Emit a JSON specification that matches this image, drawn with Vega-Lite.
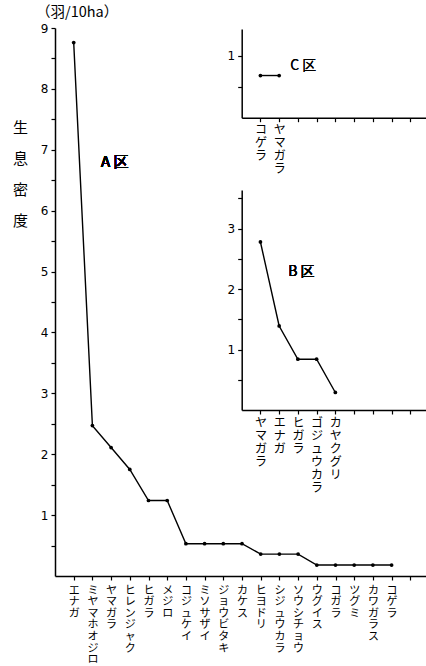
{
  "$schema": "https://vega.github.io/schema/vega-lite/v6.json",
  "width": 371,
  "height": 548,
  "autosize": "none",
  "padding": {"left": 55, "top": 28, "right": 0, "bottom": 90},
  "background": "white",
  "config": {
    "view": {"stroke": null},
    "font": "Noto Sans CJK JP",
    "axis": {"grid": false, "domainColor": "black", "tickColor": "black", "labelColor": "black", "titleColor": "black", "domainWidth": 1.5, "tickWidth": 1.2, "labelFlush": false, "labelOverlap": false, "tickCount": 40}
  },
  "title": {"text": "（羽/10ha）", "anchor": "start", "frame": "group", "dx": -19, "dy": -2, "offset": 0, "fontSize": 14.5, "fontWeight": "normal", "font": "Noto Sans CJK JP", "color": "black"},
  "datasets": {
    "A": [
      {"species": "エナガ", "density": 8.76},
      {"species": "ミヤマホオジロ", "density": 2.47},
      {"species": "ヤマガラ", "density": 2.11},
      {"species": "ヒレンジャク", "density": 1.75},
      {"species": "ヒガラ", "density": 1.24},
      {"species": "メジロ", "density": 1.24},
      {"species": "コジュケイ", "density": 0.53},
      {"species": "ミソサザイ", "density": 0.53},
      {"species": "ジョウビタキ", "density": 0.53},
      {"species": "カケス", "density": 0.53},
      {"species": "ヒヨドリ", "density": 0.36},
      {"species": "シジュウカラ", "density": 0.36},
      {"species": "ソウシチョウ", "density": 0.36},
      {"species": "ウグイス", "density": 0.18},
      {"species": "コガラ", "density": 0.18},
      {"species": "ツグミ", "density": 0.18},
      {"species": "カワガラス", "density": 0.18},
      {"species": "コゲラ", "density": 0.18}
    ],
    "B": [
      {"species": "ヤマガラ", "density": 2.78},
      {"species": "エナガ", "density": 1.39},
      {"species": "ヒガラ", "density": 0.84},
      {"species": "ゴジュウカラ", "density": 0.84},
      {"species": "カヤクグリ", "density": 0.29}
    ],
    "C": [
      {"species": "コゲラ", "density": 0.68},
      {"species": "ヤマガラ", "density": 0.68}
    ]
  },
  "layer": [
    {
      "data": {"name": "A"},
      "layer": [
        {
          "mark": {"type": "line", "color": "black", "strokeWidth": 1.4},
          "encoding": {
            "x": {"field": "species", "type": "nominal", "sort": null,
              "scale": {"type": "point", "domain": ["エナガ", "ミヤマホオジロ", "ヤマガラ", "ヒレンジャク", "ヒガラ", "メジロ", "コジュケイ", "ミソサザイ", "ジョウビタキ", "カケス", "ヒヨドリ", "シジュウカラ", "ソウシチョウ", "ウグイス", "コガラ", "ツグミ", "カワガラス", "コゲラ", " "], "range": [0, 374], "padding": 1},
              "axis": {"title": null, "orient": "bottom", "labelExpr": "split(datum.label, '')", "labelAngle": 0, "labelAlign": "center", "labelBaseline": "top", "labelFontSize": 11, "labelLineHeight": 11.6, "tickSize": 4, "labelPadding": 4}},
            "y": {"field": "density", "type": "quantitative",
              "scale": {"domain": [0, 9], "nice": false, "range": [548, 0]},
              "axis": {"orient": "left", "tickCount": 40, "values": [0.5, 1, 1.5, 2, 2.5, 3, 3.5, 4, 4.5, 5, 5.5, 6, 6.5, 7, 7.5, 8, 8.5, 9], "labelExpr": "datum.value % 1 == 0 ? format(datum.value, 'd') : ''", "labelFont": "DejaVu Sans", "labelFontSize": 12, "tickSize": 4, "labelPadding": 3,
                "title": ["生", "息", "密", "度"], "titleAngle": 0, "titleX": -35, "titleY": 92, "titleAlign": "center", "titleBaseline": "top", "titleLineHeight": 31, "titleFontSize": 15, "titleFontWeight": "normal"}}
          }
        },
        {
          "mark": {"type": "point", "filled": true, "color": "black", "size": 14, "opacity": 1},
          "encoding": {
            "x": {"field": "species", "type": "nominal", "sort": null},
            "y": {"field": "density", "type": "quantitative"}
          }
        },
        {
          "mark": {"type": "text", "text": "A 区", "fontSize": 15, "fontWeight": "normal", "align": "left", "dx": -10, "color": "black"},
          "encoding": {
            "x": {"datum": "ヤマガラ", "type": "nominal"},
            "y": {"datum": 6.8, "type": "quantitative"}
          }
        }
      ]
    },
    {
      "data": {"name": "B"},
      "layer": [
        {
          "mark": {"type": "line", "color": "black", "strokeWidth": 1.4},
          "encoding": {
            "x": {"field": "species", "type": "nominal", "sort": null,
              "scale": {"type": "point", "domain": ["ヤマガラ", "エナガ", "ヒガラ", "ゴジュウカラ", "カヤクグリ", " ", "  ", "   ", "    "], "range": [186.7, 374], "padding": 1},
              "axis": {"title": null, "orient": "bottom", "offset": -166, "labelExpr": "split(datum.label, '')", "labelAngle": 0, "labelAlign": "center", "labelBaseline": "top", "labelFontSize": 12, "labelLineHeight": 13, "tickSize": 4, "labelPadding": 3}},
            "y": {"field": "density", "type": "quantitative",
              "scale": {"domain": [0, 3.64], "nice": false, "range": [382, 162]},
              "axis": {"orient": "left", "offset": -186.7, "tickCount": 40, "title": null, "values": [0.5, 1, 1.5, 2, 2.5, 3, 3.5], "labelExpr": "datum.value % 1 == 0 ? format(datum.value, 'd') : ''", "labelFont": "DejaVu Sans", "labelFontSize": 12, "tickSize": 4, "labelPadding": 3}}
          }
        },
        {
          "mark": {"type": "point", "filled": true, "color": "black", "size": 14, "opacity": 1},
          "encoding": {
            "x": {"field": "species", "type": "nominal", "sort": null},
            "y": {"field": "density", "type": "quantitative"}
          }
        },
        {
          "mark": {"type": "text", "text": "B 区", "fontSize": 14, "fontWeight": "normal", "align": "left", "dx": 9, "color": "black"},
          "encoding": {
            "x": {"datum": "エナガ", "type": "nominal"},
            "y": {"datum": 2.29, "type": "quantitative"}
          }
        }
      ]
    },
    {
      "data": {"name": "C"},
      "layer": [
        {
          "mark": {"type": "line", "color": "black", "strokeWidth": 1.4},
          "encoding": {
            "x": {"field": "species", "type": "nominal", "sort": null,
              "scale": {"type": "point", "domain": ["コゲラ", "ヤマガラ", " ", "  ", "   ", "    ", "     ", "      ", "       "], "range": [186.7, 374], "padding": 1},
              "axis": {"title": null, "orient": "bottom", "offset": -458.3, "labelExpr": "split(datum.label, '')", "labelAngle": 0, "labelAlign": "center", "labelBaseline": "top", "labelFontSize": 12, "labelLineHeight": 13, "tickSize": 4, "labelPadding": 3}},
            "y": {"field": "density", "type": "quantitative",
              "scale": {"domain": [0, 1.43], "nice": false, "range": [89.7, 1]},
              "axis": {"orient": "left", "offset": -186.7, "tickCount": 40, "title": null, "values": [0.5, 1], "labelExpr": "datum.value % 1 == 0 ? format(datum.value, 'd') : ''", "labelFont": "DejaVu Sans", "labelFontSize": 12, "tickSize": 4, "labelPadding": 3}}
          }
        },
        {
          "mark": {"type": "point", "filled": true, "color": "black", "size": 14, "opacity": 1},
          "encoding": {
            "x": {"field": "species", "type": "nominal", "sort": null},
            "y": {"field": "density", "type": "quantitative"}
          }
        },
        {
          "mark": {"type": "text", "text": "C 区", "fontSize": 14, "fontWeight": "normal", "align": "left", "dx": 11, "color": "black"},
          "encoding": {
            "x": {"datum": "ヤマガラ", "type": "nominal"},
            "y": {"datum": 0.84, "type": "quantitative"}
          }
        }
      ]
    }
  ],
  "resolve": {"scale": {"x": "independent", "y": "independent"}, "axis": {"x": "independent", "y": "independent"}}
}
